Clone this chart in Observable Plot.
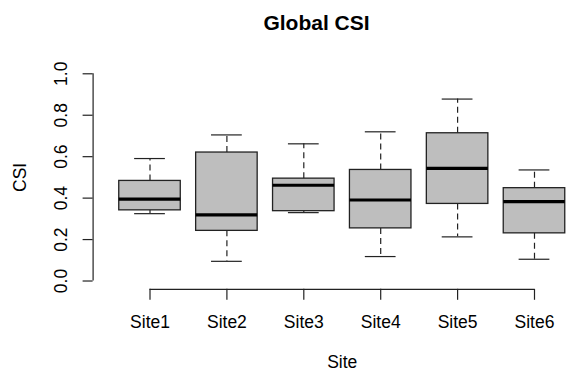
<!DOCTYPE html>
<html><head><meta charset="utf-8">
<script src="https://cdn.jsdelivr.net/npm/d3@7"></script>
<script src="https://cdn.jsdelivr.net/npm/@observablehq/plot@0.6"></script>
<style>
html,body{margin:0;padding:0;background:#fff;overflow:hidden}
svg{display:block}
</style></head><body><div id="chart"></div>
<script>
// Data (boxplot statistics per site)
const sites = ["Site1", "Site2", "Site3", "Site4", "Site5", "Site6"];
const lowerWhisker = [0.325, 0.095, 0.330, 0.118, 0.213, 0.105];
const q1           = [0.341, 0.242, 0.337, 0.254, 0.372, 0.230];
const median       = [0.395, 0.319, 0.462, 0.391, 0.544, 0.383];
const q3           = [0.483, 0.620, 0.494, 0.536, 0.713, 0.448];
const upperWhisker = [0.591, 0.705, 0.662, 0.720, 0.878, 0.536];
const yTicks = [0, 0.2, 0.4, 0.6, 0.8, 1.0];
const yTickLabels = ["0.0", "0.2", "0.4", "0.6", "0.8", "1.0"];
const title = "Global CSI";
const xLabel = "Site";
const yLabel = "CSI";

const n = sites.length;
const idx = d3.range(n);
const pos = i => i + 1;
const boxHalf = 0.4, capHalf = 0.2;
// R-style 4% axis extension
const xDomain = [0.5 - 0.04 * n, n + 0.5 + 0.04 * n];
const yDomain = [-0.04, 1.04];

const font = "'Liberation Sans', Arial, Helvetica, sans-serif";
const W = 566, H = 372, mL = 92.6, mT = 65, mB = 83.2;

const chart = Plot.plot({
  width: W, height: H,
  marginLeft: mL, marginRight: 0, marginTop: mT, marginBottom: mB,
  style: {fontFamily: font, fontSize: "17.5px", color: "#000", background: "#fff"},
  x: {type: "linear", domain: xDomain, range: [mL, 590.9], axis: null},
  y: {type: "linear", domain: yDomain, axis: null},
  marks: [
    // whiskers
    Plot.ruleX(idx, {x: pos, y1: i => q3[i], y2: i => upperWhisker[i], stroke: "#222", strokeWidth: 1.2, strokeDasharray: "6,4"}),
    Plot.ruleX(idx, {x: pos, y1: i => q1[i], y2: i => lowerWhisker[i], stroke: "#222", strokeWidth: 1.2, strokeDasharray: "6,4"}),
    // staples
    Plot.ruleY(idx, {y: i => upperWhisker[i], x1: i => pos(i) - capHalf, x2: i => pos(i) + capHalf, stroke: "#222", strokeWidth: 1.2}),
    Plot.ruleY(idx, {y: i => lowerWhisker[i], x1: i => pos(i) - capHalf, x2: i => pos(i) + capHalf, stroke: "#222", strokeWidth: 1.2}),
    // boxes
    Plot.rectY(idx, {x1: i => pos(i) - boxHalf, x2: i => pos(i) + boxHalf, y1: i => q1[i], y2: i => q3[i], fill: "#bebebe", stroke: "#222", strokeWidth: 1.3}),
    // medians
    Plot.ruleY(idx, {y: i => median[i], x1: i => pos(i) - boxHalf, x2: i => pos(i) + boxHalf, stroke: "#000", strokeWidth: 3.2}),
    // y axis
    Plot.ruleX([xDomain[0]], {y1: yTicks[0], y2: yTicks[yTicks.length - 1], stroke: "#222", strokeWidth: 1.2}),
    Plot.axisY({ticks: yTicks, tickSize: 10, tickPadding: 16.6, tickRotate: -90, tickFormat: (d, i) => yTickLabels[yTicks.indexOf(d)], label: null, stroke: "#222", strokeWidth: 1.2, fill: "#000", fontSize: 17.5}),
    // x axis
    Plot.ruleY([yDomain[0]], {x1: pos(0), x2: pos(n - 1), stroke: "#222", strokeWidth: 1.2}),
    Plot.axisX({ticks: idx.map(pos), tickSize: 11, tickPadding: 15, tickFormat: d => sites[d - 1], label: null, stroke: "#222", strokeWidth: 1.2, fill: "#000", fontSize: 17.5}),
    // axis titles
    Plot.text([xLabel], {x: (xDomain[0] + xDomain[1]) / 2, frameAnchor: "bottom", dy: 79, lineAnchor: "bottom", fontSize: 17.5, fill: "#000"}),
    Plot.text([yLabel], {y: 0.5, frameAnchor: "left", rotate: -90, dx: -67.6, lineAnchor: "bottom", textAnchor: "middle", fontSize: 17.5, fill: "#000"}),
    // title
    Plot.text([title], {frameAnchor: "top", dx: -13.3, dy: -35.7, lineAnchor: "bottom", fontSize: 21, fontWeight: "bold", fill: "#000"})
  ]
});
document.getElementById("chart").appendChild(chart);
</script>
</body></html>
